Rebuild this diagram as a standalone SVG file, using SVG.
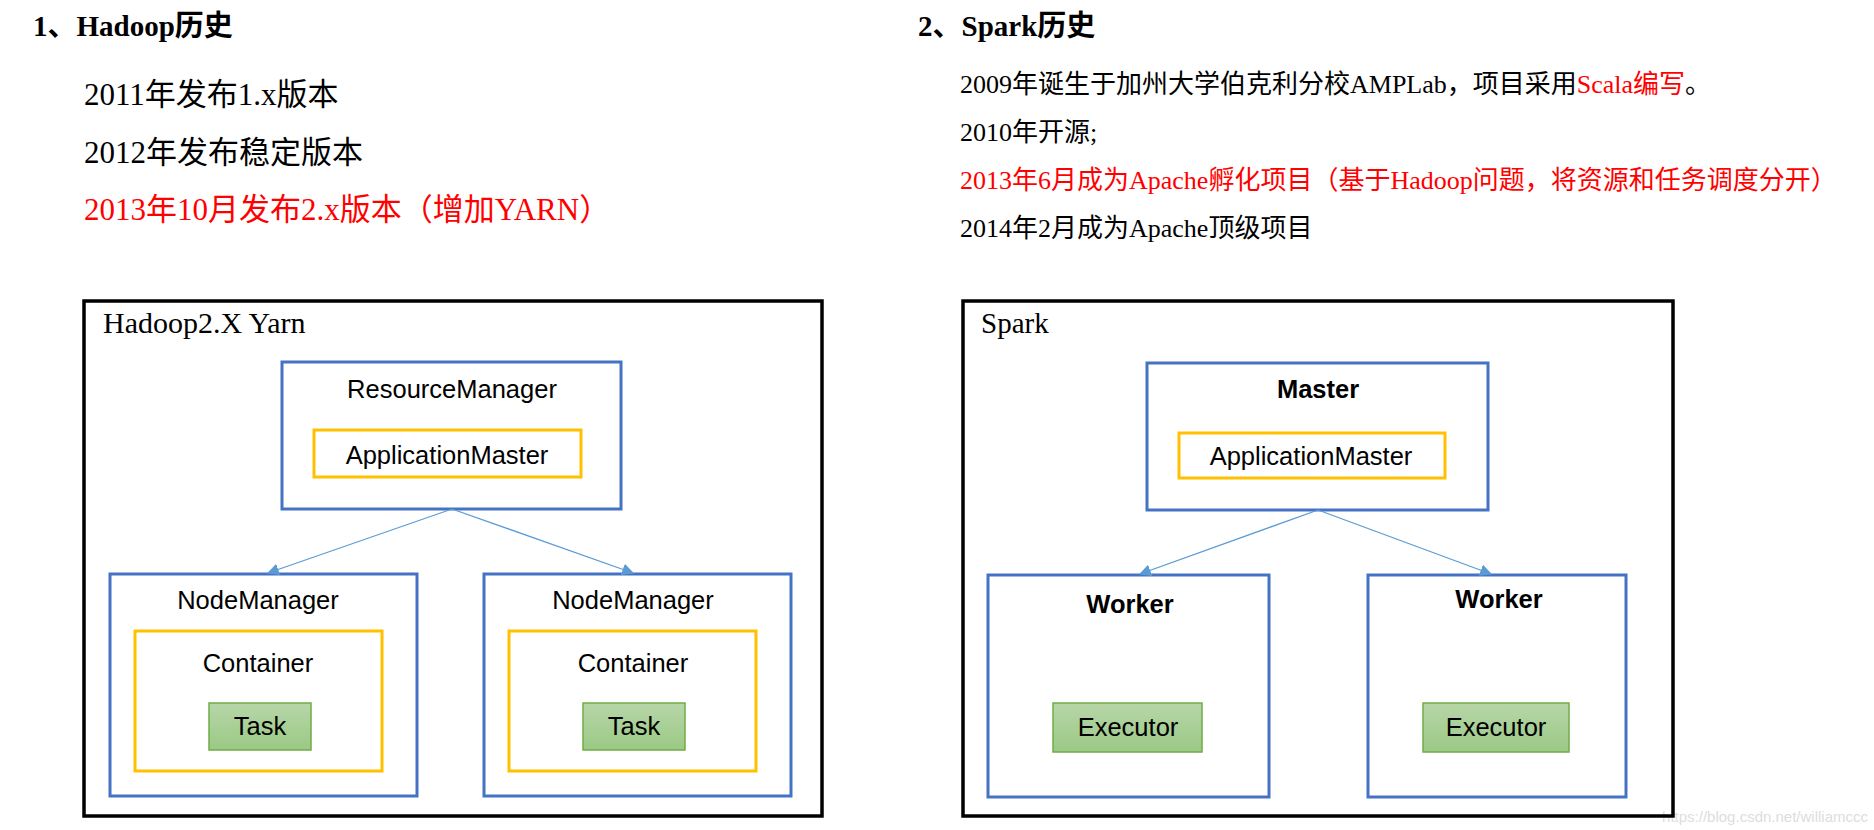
<svg xmlns="http://www.w3.org/2000/svg" width="1874" height="830" viewBox="0 0 1874 830">
<style>
.ser{font-family:"Liberation Serif","Noto Sans CJK SC",serif;fill:#000}
.sans{font-family:"Liberation Sans","Noto Sans CJK SC",sans-serif;fill:#000;font-size:25.5px;text-anchor:middle}
.h{font-size:29px;font-weight:bold}
.l1{font-size:31px}
.l2{font-size:26px}
.red{fill:#FF0000}
.outer{fill:none;stroke:#000;stroke-width:3.5}
.blue{fill:#fff;stroke:#4472C4;stroke-width:3}
.or{fill:#fff;stroke:#FFC000;stroke-width:3}
.gr{fill:url(#g);stroke:#70AD47;stroke-width:1.5}
.con{stroke:#5B9BD5;stroke-width:1.3;fill:none;marker-end:url(#a)}
</style>
<defs>
<linearGradient id="g" x1="0" y1="0" x2="0" y2="1"><stop offset="0" stop-color="#B7D6A8"/><stop offset="1" stop-color="#9BC985"/></linearGradient>
<marker id="a" viewBox="0 0 10 10" refX="9" refY="5" markerWidth="12" markerHeight="12" markerUnits="userSpaceOnUse" orient="auto"><path d="M0,0L10,5L0,10z" fill="#5B9BD5"/></marker>
</defs>
<rect width="1874" height="830" fill="#fff"/>
<g id="texts">
<text class="ser h" x="33" y="36">1、Hadoop历史</text>
<text class="ser l1" x="84" y="105">2011年发布1.x版本</text>
<text class="ser l1" x="84" y="163">2012年发布稳定版本</text>
<text class="ser l1 red" x="84" y="220">2013年10月发布2.x版本（增加YARN）</text>
<text class="ser h" x="918" y="36">2、Spark历史</text>
<text class="ser l2" x="960" y="93">2009年诞生于加州大学伯克利分校AMPLab，项目采用<tspan class="red">Scala编写</tspan>。</text>
<text class="ser l2" x="960" y="141">2010年开源;</text>
<text class="ser l2 red" x="960" y="189">2013年6月成为Apache孵化项目（基于Hadoop问题，将资源和任务调度分开）</text>
<text class="ser l2" x="960" y="237">2014年2月成为Apache顶级项目</text>
<text x="1868" y="822" text-anchor="end" font-family="Liberation Sans,sans-serif" font-size="15" fill="#ddd">https://blog.csdn.net/williamccc</text>
</g>
<g id="hadoop">
<rect class="outer" x="84" y="301" width="738" height="515"/>
<text class="ser" x="103" y="333" font-size="30">Hadoop2.X Yarn</text>
</g>
<g id="rm"><rect class="blue" x="282" y="362" width="339" height="147"/><text class="sans" x="452" y="398">ResourceManager</text></g>
<g id="am1"><rect class="or" x="314" y="430" width="267" height="47"/><text class="sans" x="447" y="464">ApplicationMaster</text></g>
<g id="nm1"><rect class="blue" x="110" y="574" width="307" height="222"/><text class="sans" x="258" y="609">NodeManager</text></g>
<g id="c1"><rect class="or" x="135" y="631" width="247" height="140"/><text class="sans" x="258" y="672">Container</text></g>
<g id="t1"><rect class="gr" x="209" y="703" width="102" height="47"/><text class="sans" x="260" y="735">Task</text></g>
<g id="nm2"><rect class="blue" x="484" y="574" width="307" height="222"/><text class="sans" x="633" y="609">NodeManager</text></g>
<g id="c2"><rect class="or" x="509" y="631" width="247" height="140"/><text class="sans" x="633" y="672">Container</text></g>
<g id="t2"><rect class="gr" x="583" y="703" width="102" height="47"/><text class="sans" x="634" y="735">Task</text></g>
<g id="spark">
<rect class="outer" x="963" y="301" width="710" height="515"/>
<text class="ser" x="981" y="333" font-size="29">Spark</text>
</g>
<g id="master"><rect class="blue" x="1147" y="363" width="341" height="147"/><text class="sans" x="1318" y="398" font-weight="bold">Master</text></g>
<g id="am2"><rect class="or" x="1179" y="433" width="266" height="45"/><text class="sans" x="1311" y="465">ApplicationMaster</text></g>
<g id="w1"><rect class="blue" x="988" y="575" width="281" height="222"/><text class="sans" x="1130" y="613" font-weight="bold">Worker</text></g>
<g id="e1"><rect class="gr" x="1053" y="703" width="149" height="49"/><text class="sans" x="1128" y="736">Executor</text></g>
<g id="w2"><rect class="blue" x="1368" y="575" width="258" height="222"/><text class="sans" x="1499" y="608" font-weight="bold">Worker</text></g>
<g id="e2"><rect class="gr" x="1423" y="703" width="146" height="49"/><text class="sans" x="1496" y="736">Executor</text></g>
<g id="connectors">
<path class="con" d="M452,509L268,573"/>
<path class="con" d="M452,509L633,573"/>
<path class="con" d="M1318,510L1140,574"/>
<path class="con" d="M1318,510L1491,574"/>
</g>
</svg>
